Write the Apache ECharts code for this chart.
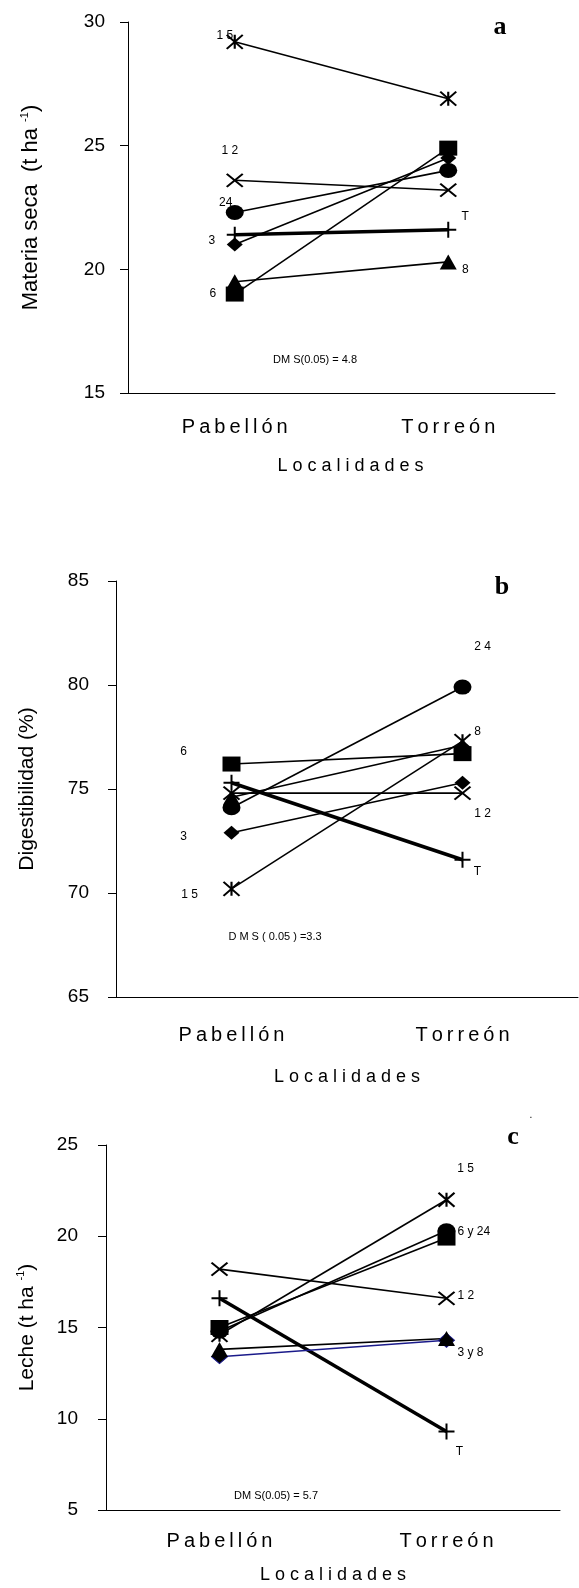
<!DOCTYPE html>
<html><head><meta charset="utf-8">
<script src="https://cdn.jsdelivr.net/npm/echarts@6/dist/echarts.min.js"></script>
<style>html,body{margin:0;padding:0;background:#fff}#c{width:579px;height:1588px}</style>
</head><body><div id="c"></div>
<script>
// ---------- data ----------
const categories = ['Pabellón', 'Torreón'];
const xName = 'L o c a l i d a d e s';
const ticksA = [15, 20, 25, 30];
const ticksB = [65, 70, 75, 80, 85];
const ticksC = [5, 10, 15, 20, 25];

// a: Materia seca (t ha-1)
const ms15 = [29.2, 26.9];
const ms12 = [23.6, 23.2];
const ms24 = [22.3, 24.0];
const ms3  = [21.0, 24.5];
const msT  = [21.4, 21.6];
const ms8  = [19.5, 20.3];
const ms6  = [19.0, 24.9];

// b: Digestibilidad (%)
const dg24 = [74.1, 79.9];
const dg15 = [70.2, 77.3];
const dg8  = [74.6, 77.1];
const dg6  = [76.2, 76.7];
const dg3  = [72.9, 75.3];
const dg12 = [74.8, 74.8];
const dgT  = [75.3, 71.6];

// c: Leche (t ha-1)
const le15 = [14.6, 22.0];
const le24 = [14.8, 20.3];
const le6  = [15.0, 19.9];
const le12 = [18.2, 16.6];
const leT  = [16.6, 9.3];
const le3  = [13.4, 14.3];
const le8  = [13.8, 14.4];

// ---------- styles ----------
const FONT = '"Liberation Sans", Arial, sans-serif';
const SYM = {
  rect:    { symbol: 'rect', size: [18, 15], stroke: false },
  circle:  { symbol: 'circle', size: [18, 15], stroke: false },
  diamond: { symbol: 'diamond', size: [16, 14], stroke: false },
  triangle:{ symbol: 'triangle', size: [17, 15], stroke: false },
  x:       { symbol: 'path://M0,0L10,10M10,0L0,10', size: [16, 13], stroke: true },
  ast:     { symbol: 'path://M0,0L10,10M10,0L0,10M5,0L5,10', size: [16, 14], stroke: true },
  plus:    { symbol: 'path://M5,0L5,10M0,5L10,5', size: [16, 16], stroke: true }
};

function mk(gi, name, values, symKey, lab, opt) {
  opt = opt || {};
  const s = SYM[symKey];
  const data = values.map((v, i) => {
    if (lab && lab.idx === i) {
      return { value: v, label: {
        show: true, position: 'inside', offset: [lab.dx, lab.dy],
        formatter: lab.text, color: '#000', fontSize: 12, fontFamily: FONT,
        align: lab.align || 'center', verticalAlign: 'middle'
      } };
    }
    return v;
  });
  return {
    type: 'line', name: name, xAxisIndex: gi, yAxisIndex: gi, data: data,
    symbol: s.symbol, symbolSize: s.size, showAllSymbol: true,
    lineStyle: { color: opt.lineColor || '#000', width: opt.width || 1.6 },
    itemStyle: s.stroke
      ? { color: '#000', borderColor: '#000', borderWidth: 2 }
      : { color: opt.fill || '#000', borderColor: opt.border || '#000', borderWidth: opt.border ? 1 : 0 },
    label: { show: false },
    emphasis: { disabled: true },
    z: opt.z || 2
  };
}

const grids = [
  { left: 128, top: 22, width: 427, height: 371 },
  { left: 116, top: 581, width: 462, height: 416 },
  { left: 106, top: 1145, width: 454, height: 365 }
];
const ticks = [ticksA, ticksB, ticksC];
const yLabelMargin = [23, 27, 28];
const yNameGap = [85, 77, 67];
const xLabelMargin = [24, 28, 21];
const xNameGap = [64, 71, 56];
const xNamePad = [[0, 0, 0, 18], [0, 0, 0, 0], [0, 0, 0, 0]];
const yNames = [
  '{n|Materia seca  (t ha }{s|-1}{n|)}',
  '{n|Digestibilidad (%)}',
  '{n|Leche (t ha }{s|-1}{n|)}'
];

const axisLineStyle = { color: '#000', width: 1 };
const xAxes = grids.map((g, i) => ({
  gridIndex: i, type: 'category', data: categories, boundaryGap: true,
  axisLine: { lineStyle: axisLineStyle },
  axisTick: { length: 8, lineStyle: axisLineStyle },
  axisLabel: { color: '#000', fontSize: 20, fontFamily: FONT, margin: xLabelMargin[i],
    formatter: v => v.split('').join('\u2009') },
  name: xName, nameLocation: 'middle', nameGap: xNameGap[i],
  nameTextStyle: { color: '#000', fontSize: 18, fontFamily: FONT, padding: xNamePad[i] }
}));
const yAxes = grids.map((g, i) => ({
  gridIndex: i, type: 'value', min: ticks[i][0], max: ticks[i][ticks[i].length - 1],
  interval: ticks[i][1] - ticks[i][0],
  splitLine: { show: false },
  axisLine: { show: true, lineStyle: axisLineStyle },
  axisTick: { show: true, length: 8, lineStyle: axisLineStyle },
  axisLabel: { color: '#000', fontSize: 19, fontFamily: FONT, margin: yLabelMargin[i] },
  name: yNames[i], nameLocation: 'middle', nameGap: yNameGap[i],
  nameTextStyle: { color: '#000', fontFamily: FONT,
    rich: { n: { fontSize: i === 0 ? 22 : 21, fontFamily: FONT, color: '#000', lineHeight: 24, verticalAlign: 'middle' },
            s: { fontSize: 11, fontFamily: FONT, color: '#000', lineHeight: 24, verticalAlign: 'top' } } }
}));

const series = [
  // a
  mk(0, '15', ms15, 'ast',     { idx: 0, text: '1 5', dx: -10, dy: -6 }),
  mk(0, '12', ms12, 'x',       { idx: 0, text: '1 2', dx: -5, dy: -30 }),
  mk(0, '24', ms24, 'circle',  { idx: 0, text: '24', dx: -9, dy: -10 }),
  mk(0, '3',  ms3,  'diamond', { idx: 0, text: '3', dx: -23, dy: -4 }),
  mk(0, 'T',  msT,  'plus',    { idx: 1, text: 'T', dx: 17, dy: -13 }, { width: 3.5 }),
  mk(0, '8',  ms8,  'triangle',{ idx: 1, text: '8', dx: 17, dy: 8 }),
  mk(0, '6',  ms6,  'rect',    { idx: 0, text: '6', dx: -22, dy: 0 }),
  // b
  mk(1, '24', dg24, 'circle',  { idx: 1, text: '2 4', dx: 20, dy: -40 }),
  mk(1, '15', dg15, 'ast',     { idx: 0, text: '1 5', dx: -42, dy: 6 }),
  mk(1, '8',  dg8,  'triangle',{ idx: 1, text: '8', dx: 15, dy: -14 }),
  mk(1, '6',  dg6,  'rect',    { idx: 0, text: '6', dx: -48, dy: -12 }),
  mk(1, '3',  dg3,  'diamond', { idx: 0, text: '3', dx: -48, dy: 4 }),
  mk(1, '12', dg12, 'x',       { idx: 1, text: '1 2', dx: 20, dy: 21 }),
  mk(1, 'T',  dgT,  'plus',    { idx: 1, text: 'T', dx: 15, dy: 12 }, { width: 3.5 }),
  // c
  mk(2, '15', le15, 'ast',     { idx: 1, text: '1 5', dx: 19, dy: -31 }),
  mk(2, '24', le24, 'circle',  { idx: 1, text: '6 y 24', dx: 11, dy: 1, align: 'left' }),
  mk(2, '6',  le6,  'rect',    null),
  mk(2, '12', le12, 'x',       { idx: 1, text: '1 2', dx: 11, dy: -3, align: 'left' }),
  mk(2, 'T',  leT,  'plus',    { idx: 1, text: 'T', dx: 13, dy: 20 }, { width: 3.5 }),
  mk(2, '3',  le3,  'diamond', { idx: 1, text: '3 y 8', dx: 11, dy: 12, align: 'left' },
     { lineColor: '#1a1a8a', width: 1.5, border: '#1a1a8a' }),
  mk(2, '8',  le8,  'triangle', null)
];

function txt(x, y, text, size) {
  return { type: 'text', x: x, y: y, z: 10,
    style: { text: text, fill: '#000', fontSize: size, fontFamily: FONT,
      align: 'center', verticalAlign: 'middle' } };
}
const serif = '"Liberation Serif", "Times New Roman", serif';
function letter(x, y, t) {
  return { type: 'text', x: x, y: y, z: 10, style: { text: t, fill: '#000', fontSize: 26,
    fontWeight: 'bold', fontFamily: serif, align: 'center', verticalAlign: 'middle' } };
}
const graphic = [
  txt(315, 360, 'DM S(0.05) = 4.8', 11),
  txt(275, 937, 'D M S ( 0.05 ) =3.3', 11),
  txt(276, 1496, 'DM S(0.05) = 5.7', 11),
  letter(500, 27, 'a'),
  letter(502, 587, 'b'),
  letter(513, 1137, 'c'),
  txt(531, 1115, '.', 10)
];

const chart = echarts.init(document.getElementById('c'), null, { renderer: 'canvas' });
chart.setOption({
  animation: false,
  backgroundColor: '#fff',
  grid: grids,
  xAxis: xAxes,
  yAxis: yAxes,
  series: series,
  graphic: graphic
});
</script>
</body></html>
